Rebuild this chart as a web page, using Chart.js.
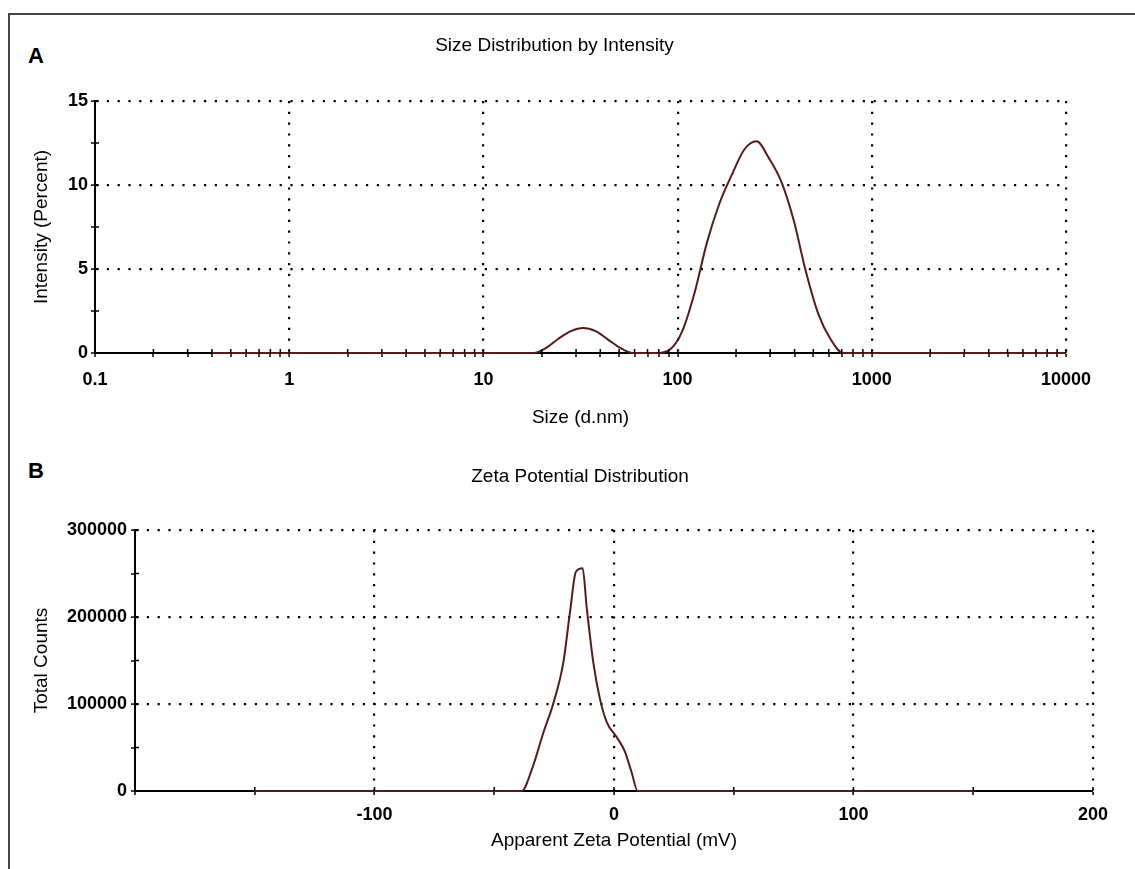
<!DOCTYPE html>
<html>
<head>
<meta charset="utf-8">
<script src="https://cdn.jsdelivr.net/npm/chart.js@4.4.0/dist/chart.umd.min.js"></script>
<style>
html, body { margin: 0; padding: 0; background: #fff; overflow: hidden; width: 1135px; height: 869px; }
#frame { position: absolute; left: 8px; top: 13px; width: 1300px; height: 1000px; border-top: 2px solid #444; border-left: 2px solid #444; }
canvas { position: absolute; left: 0; }
.panel { position: absolute; left: 28px; font: bold 22px 'Liberation Sans', Arial, sans-serif; color: #000; }
</style>
</head>
<body>
<div id="frame"></div>
<div class="panel" style="top:43px">A</div>
<div class="panel" style="top:458px">B</div>
<canvas id="sizeChart" width="1106" height="443" style="top:0"></canvas>
<canvas id="zetaChart" width="1133" height="426" style="top:443px"></canvas>
<script>
// Size distribution (DLS), log size bins
const sizeNm = [0.4, 18.17, 21.04, 24.36, 28.21, 32.67, 37.84, 43.82, 50.75, 58.77, 68.06, 78.82, 91.28,
    105.7, 122.4, 141.8, 164.2, 190.1, 220.2, 255.0, 295.3, 342.0, 396.1, 458.7, 531.2, 615.1, 712.4, 10000];
const intensityPct = [0, 0, 0.3, 0.85, 1.3, 1.49, 1.3, 0.8, 0.3, 0, 0, 0, 0.2,
    1.3, 3.6, 6.6, 8.9, 10.6, 12.1, 12.6, 11.6, 10.2, 7.9, 4.8, 2.3, 0.8, 0, 0];
const sizeDecades = [0.1, 1, 10, 100, 1000, 10000];
const minorSteps = [2, 3, 4, 5, 6, 7, 8, 9];
const intensityTicks = [0, 2.5, 5, 7.5, 10, 12.5, 15];
const intensityLabels = [0, 5, 10, 15];

// Zeta potential distribution
const zetaMv = [-150, -38.5, -34.4, -29.5, -25.3, -21.2, -18.4, -15.9, -13.1, -11.4, -8.6, -5.8, -3.0, 1.1, 4.6, 7.4, 9.9, 150];
const totalCounts = [0, 0, 24000, 67000, 101000, 147000, 205000, 252000, 256000, 211000, 147000, 105000, 79000, 62000, 45000, 21000, 0, 0];
const zetaTicks = [-200, -150, -100, -50, 0, 50, 100, 150, 200];
const zetaLabels = [-100, 0, 100, 200];
const countTicks = [0, 50000, 100000, 150000, 200000, 250000, 300000];
const countLabels = [0, 100000, 200000, 300000];

Chart.defaults.font.family = "'Liberation Sans', Arial, sans-serif";
Chart.defaults.color = '#000';
const INK = '#000';
const LINE = '#561c1c';

// every decade plus the 2..9 minor marks in between
const sizeTicks = [];
sizeDecades.forEach((d, i) => {
    sizeTicks.push(d);
    if (i < sizeDecades.length - 1) minorSteps.forEach(m => sizeTicks.push(d * m));
});

// tick marks cross the axis line: add the inner half of each tick
const crossTicks = {
    id: 'crossTicks',
    afterDraw(chart) {
        const ctx = chart.ctx;
        const area = chart.chartArea;
        ctx.save();
        ctx.strokeStyle = INK;
        ctx.lineWidth = 1.5;
        ctx.beginPath();
        Object.values(chart.scales).forEach(s => {
            s.ticks.forEach((t, i) => {
                const p = s.getPixelForTick(i);
                if (s.isHorizontal()) {
                    ctx.moveTo(p, area.bottom);
                    ctx.lineTo(p, area.bottom - 4);
                } else {
                    ctx.moveTo(area.left, p);
                    ctx.lineTo(area.left + 4, p);
                }
            });
        });
        ctx.stroke();
        ctx.restore();
    }
};

function axis(o) {
    return {
        type: o.type || 'linear',
        position: o.position,
        min: o.min,
        max: o.max,
        afterBuildTicks: s => { s.ticks = o.ticks.map(v => ({ value: v })); },
        afterFit: s => { if (o.position === 'bottom') s.height = o.size; else s.width = o.size; },
        ticks: {
            autoSkip: false, maxRotation: 0, minRotation: 0,
            padding: o.tickPad,
            font: { size: 18, weight: 'bold' },
            color: INK,
            callback: v => o.labels.includes(v) ? String(v) : ''
        },
        grid: {
            color: INK,
            lineWidth: c => (c.tick && o.gridAt.includes(c.tick.value)) ? 2.2 : 0,
            tickLength: 4,
            tickWidth: 1.5,
            tickColor: INK
        },
        border: { color: INK, width: 2, dash: [2.2, 8.6] },
        title: { display: true, text: o.title, font: { size: 19 }, color: INK, padding: o.titlePad }
    };
}

function lineData(xs, ys) {
    return {
        datasets: [{
            data: xs.map((x, i) => ({ x: x, y: ys[i] })),
            borderColor: LINE,
            borderWidth: 2,
            pointRadius: 0,
            cubicInterpolationMode: 'monotone',
            fill: false,
            clip: false
        }]
    };
}

new Chart(document.getElementById('sizeChart'), {
    type: 'line',
    data: lineData(sizeNm, intensityPct),
    plugins: [crossTicks],
    options: {
        responsive: false, animation: false, devicePixelRatio: 1,
        layout: { padding: { left: 43, right: 40, top: 0, bottom: 0 } },
        plugins: {
            legend: { display: false },
            tooltip: { enabled: false },
            title: {
                display: true, text: 'Size Distribution by Intensity', color: INK,
                font: { size: 19, weight: 'normal' }, padding: { top: 34.6, bottom: 43.6 }
            }
        },
        scales: {
            x: axis({
                type: 'logarithmic', position: 'bottom', min: 0.1, max: 10000,
                ticks: sizeTicks, labels: sizeDecades, gridAt: sizeDecades.slice(1),
                size: 90, tickPad: 12.2, title: 'Size (d.nm)', titlePad: { top: 0, bottom: 13.6 }
            }),
            y: axis({
                position: 'left', min: 0, max: 15,
                ticks: intensityTicks, labels: intensityLabels, gridAt: intensityLabels.slice(1),
                size: 52, tickPad: 3, title: 'Intensity (Percent)', titlePad: { top: -12.4, bottom: 0 }
            })
        }
    }
});

new Chart(document.getElementById('zetaChart'), {
    type: 'line',
    data: lineData(zetaMv, totalCounts),
    plugins: [crossTicks],
    options: {
        responsive: false, animation: false, devicePixelRatio: 1,
        layout: { padding: { left: 67, right: 40, top: 0, bottom: 0 } },
        plugins: {
            legend: { display: false },
            tooltip: { enabled: false },
            title: {
                display: true, text: 'Zeta Potential Distribution', color: INK,
                font: { size: 19, weight: 'normal' }, padding: { top: 22.6, bottom: 41.6 }
            }
        },
        scales: {
            x: axis({
                position: 'bottom', min: -200, max: 200,
                ticks: zetaTicks, labels: zetaLabels, gridAt: zetaLabels,
                size: 78, tickPad: 9.2, title: 'Apparent Zeta Potential (mV)', titlePad: { top: 0, bottom: 16.6 }
            }),
            y: axis({
                position: 'left', min: 0, max: 300000,
                ticks: countTicks, labels: countLabels, gridAt: countLabels.slice(1),
                size: 68, tickPad: 4, title: 'Total Counts', titlePad: { top: -36.4, bottom: 0 }
            })
        }
    }
});
</script>
</body>
</html>
